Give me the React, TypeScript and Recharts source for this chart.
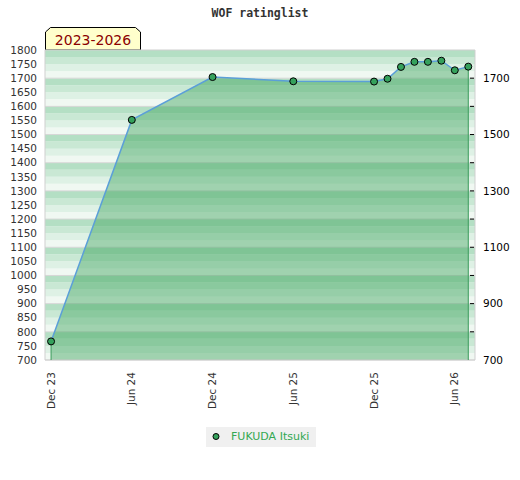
import React from "react";
import { ComposedChart, Area, Line, XAxis, YAxis, ReferenceArea, ReferenceLine } from "recharts";

// rating list entries (year-month)
const dates = ["2023-12", "2024-06", "2024-12", "2025-06", "2025-12", "2026-01", "2026-02", "2026-03", "2026-04", "2026-05", "2026-06", "2026-07"];
const ratings = [766, 1552, 1704, 1689, 1688, 1698, 1740, 1758, 1758, 1762, 1728, 1741];

const xTickDates = ["2023-12", "2024-06", "2024-12", "2025-06", "2025-12", "2026-06"];
const xTickLabels = ["Dec 23", "Jun 24", "Dec 24", "Jun 25", "Dec 25", "Jun 26"];
const leftTicks = [700, 750, 800, 850, 900, 950, 1000, 1050, 1100, 1150, 1200, 1250, 1300, 1350, 1400, 1450, 1500, 1550, 1600, 1650, 1700, 1750, 1800];
const rightTicks = [700, 800, 900, 1000, 1100, 1200, 1300, 1400, 1500, 1600, 1700];
const rightLabels = [700, 900, 1100, 1300, 1500, 1700];

const playerName = "FUKUDA Itsuki";
const title = "WOF ratinglist";
const period = "2023-2026";

const Y_MIN = 700;
const Y_MAX = 1800;
const X_DOMAIN: [number, number] = [-0.45, 31.5];

// months since Dec 2023
const toMonth = (d: string) => {
  const [y, m] = d.split("-").map(Number);
  return (y - 2023) * 12 + (m - 12);
};

const data = dates.map((d, i) => ({ m: toMonth(d), r: ratings[i] }));
const xTicks = xTickDates.map(toMonth);

const stripeColors = ["#b4dfc4", "#c9e8d4", "#def1e5", "#f0f8f2"];
const stripes: { y1: number; y2: number; fill: string }[] = [];
for (let v = Y_MIN; v < Y_MAX; v += 25) {
  const idx = ((Y_MAX - (v + 25)) / 25) % 4;
  stripes.push({ y1: v, y2: v + 25, fill: stripeColors[idx] });
}

const XTick = (props: any) => {
  const { x, payload } = props;
  const i = xTicks.indexOf(payload.value);
  const y = 372;
  return (
    <text x={x} y={y} dy="0.35em" transform={`rotate(-90, ${x}, ${y})`} textAnchor="end" fontSize={10.5} fill="#333" fontFamily="DejaVu Sans">
      {xTickLabels[i]}
    </text>
  );
};

const RightTick = (props: any) => {
  const { x, y, payload } = props;
  const v = Number(payload.value);
  return (
    <g>
      {v !== Y_MIN && <line x1={x - 13} x2={x - 9} y1={y} y2={y} stroke="#000" strokeWidth={1} />}
      {rightLabels.includes(v) && (
        <text x={x} y={y} dy="0.35em" textAnchor="start" fontSize={10.5} fill="#000" fontFamily="DejaVu Sans">
          {v}
        </text>
      )}
    </g>
  );
};

export default function App() {
  const first = data[0];
  const last = data[data.length - 1];
  return (
    <div style={{ position: "absolute", left: 0, top: 0, width: 520, height: 480, background: "#fff" }}>
      <div style={{ position: "absolute", left: 0, top: 6, width: 520, textAlign: "center", fontFamily: "DejaVu Sans Mono", fontWeight: "bold", fontSize: 11.5, color: "#333" }}>
        {title}
      </div>
      <svg style={{ position: "absolute", left: 0, top: 0 }} width={160} height={52}>
        <polygon points="45.5,50 45.5,32 50.5,27.5 135.5,27.5 140.5,32 140.5,50" fill="#ffffcc" stroke="#000" strokeWidth={1} />
        <text x={93} y={45} textAnchor="middle" fontSize={14} fill="#8b0000" fontFamily="DejaVu Sans">
          {period}
        </text>
      </svg>
      <ComposedChart width={520} height={480} data={data} margin={{ top: 50, right: 0, bottom: 60, left: 0 }}>
        <XAxis type="number" dataKey="m" domain={X_DOMAIN} ticks={xTicks} tick={<XTick />} axisLine={false} tickLine={false} height={60} interval={0} />
        <YAxis yAxisId="left" orientation="left" width={45} domain={[Y_MIN, Y_MAX]} ticks={leftTicks} interval={0} axisLine={false} tickLine={false} tick={{ fontSize: 10.5, fill: "#333", fontFamily: "DejaVu Sans" }} />
        <YAxis yAxisId="right" orientation="right" width={45} domain={[Y_MIN, Y_MAX]} ticks={rightTicks} interval={0} axisLine={false} tickLine={false} tick={(p: any) => <RightTick {...p} />} />
        {stripes.map((s) => (
          <ReferenceArea key={s.y1} yAxisId="left" x1={X_DOMAIN[0]} x2={X_DOMAIN[1]} y1={s.y1} y2={s.y2} fill={s.fill} fillOpacity={1} stroke="none" ifOverflow="hidden" zIndex={-60} />
        ))}
        {rightTicks.map((v) => (
          <ReferenceLine key={v} yAxisId="left" y={v} stroke="#d6d6d6" strokeWidth={1} zIndex={-50} />
        ))}
        <Area yAxisId="right" type="linear" dataKey="r" stroke="none" fill="#3da35d" fillOpacity={0.45} baseValue={Y_MIN} isAnimationActive={false} />
        <ReferenceLine yAxisId="left" segment={[{ x: first.m, y: Y_MIN }, { x: first.m, y: first.r }]} stroke="#3a9a5a" strokeWidth={1} />
        <ReferenceLine yAxisId="left" segment={[{ x: last.m, y: Y_MIN }, { x: last.m, y: last.r }]} stroke="#3a9a5a" strokeWidth={1} />
        <ReferenceArea yAxisId="left" x1={X_DOMAIN[0]} x2={X_DOMAIN[1]} y1={Y_MIN} y2={Y_MAX} fill="none" stroke="#cfcfcf" strokeWidth={1} />
        <Line yAxisId="left" type="linear" dataKey="r" stroke="#5b9fd8" strokeWidth={1.5} dot={{ r: 3.5, fill: "#35a15c", stroke: "#000", strokeWidth: 1 }} activeDot={false} isAnimationActive={false} />
      </ComposedChart>
      <div style={{ position: "absolute", left: 206, top: 427, width: 110, height: 20, background: "#f0f0f0", fontFamily: "DejaVu Sans", fontSize: 11 }}>
        <svg style={{ position: "absolute", left: 0, top: 0 }} width={20} height={20}>
          <circle cx={10} cy={9.5} r={3} fill="#35a15c" stroke="#000" strokeWidth={1} />
        </svg>
        <span style={{ position: "absolute", left: 25, top: 3, color: "#33a852", whiteSpace: "nowrap" }}>{playerName}</span>
      </div>
    </div>
  );
}
